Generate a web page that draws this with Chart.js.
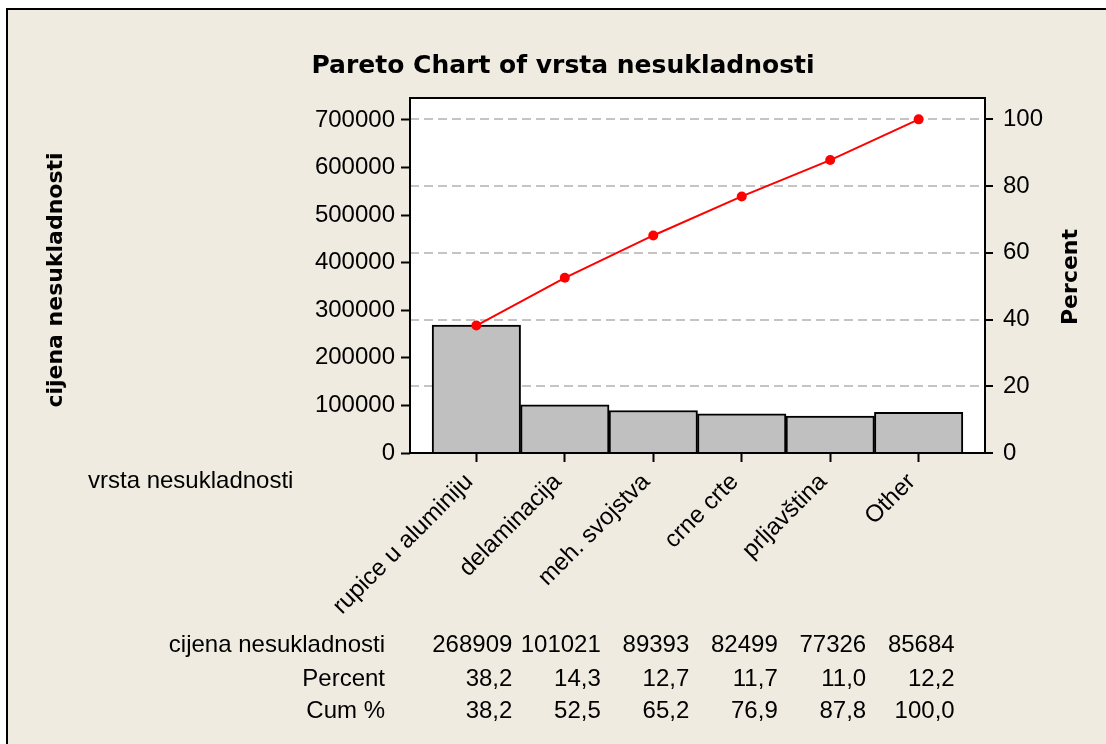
<!DOCTYPE html>
<html>
<head>
<meta charset="utf-8">
<script src="https://cdn.jsdelivr.net/npm/chart.js@4.4.1/dist/chart.umd.min.js"></script>
<style>
  html, body { margin: 0; padding: 0; background: #fff; }
</style>
</head>
<body>
<canvas id="myChart" width="1106" height="744"></canvas>
<script>
// pareto data
var categories = ['rupice u aluminiju', 'delaminacija', 'meh. svojstva', 'crne crte', 'prljavština', 'Other'];
var costValues = [268909, 101021, 89393, 82499, 77326, 85684];
var percentValues = [38.2, 14.3, 12.7, 11.7, 11.0, 12.2];
var cumPercent = [38.2, 52.5, 65.2, 76.9, 87.8, 100.0];
var leftTicks = [0, 100000, 200000, 300000, 400000, 500000, 600000, 700000];
var rightTicks = [0, 20, 40, 60, 80, 100];

Chart.defaults.font.family = '"Liberation Sans", Arial, sans-serif';
Chart.defaults.color = '#000';

function fmt(v) {
  return v.toFixed(1).replace('.', ',');
}

var decor = {
  id: 'decor',
  beforeDraw: function(chart) {
    var ctx = chart.ctx, a = chart.chartArea;
    ctx.save();
    ctx.fillStyle = '#fff';
    ctx.fillRect(0, 0, chart.width, chart.height);
    ctx.fillStyle = '#efebe1';
    ctx.fillRect(7, 9, chart.width - 7, chart.height - 9);
    ctx.fillStyle = '#000';
    ctx.fillRect(6, 8, chart.width - 6, 2);
    ctx.fillRect(6, 8, 2, chart.height - 8);
    ctx.fillStyle = '#fff';
    ctx.fillRect(a.left, a.top, a.right - a.left, a.bottom - a.top);
    ctx.restore();
  },
  afterDraw: function(chart) {
    var ctx = chart.ctx, a = chart.chartArea;
    var xs = chart.scales.x;
    ctx.save();
    ctx.strokeStyle = '#000';
    ctx.lineWidth = 2;
    ctx.strokeRect(a.left, a.top, a.right - a.left, a.bottom - a.top);

    ctx.fillStyle = '#000';
    ctx.textBaseline = 'alphabetic';

    // title
    ctx.font = 'bold 25px "DejaVu Sans"';
    ctx.textAlign = 'center';
    ctx.fillText('Pareto Chart of vrsta nesukladnosti', 563, 73);

    // axis titles
    ctx.font = 'bold 22px "DejaVu Sans"';
    ctx.save();
    ctx.translate(62, 280);
    ctx.rotate(-Math.PI / 2);
    ctx.fillText('cijena nesukladnosti', 0, 0);
    ctx.restore();
    ctx.save();
    ctx.translate(1077, 277);
    ctx.rotate(-Math.PI / 2);
    ctx.fillText('Percent', 0, 0);
    ctx.restore();

    ctx.font = '24px "Liberation Sans"';
    ctx.textAlign = 'left';
    ctx.fillText('vrsta nesukladnosti', 88, 488);

    // table under the chart
    var rows = [
      ['cijena nesukladnosti', costValues.map(String), 652],
      ['Percent', percentValues.map(fmt), 686],
      ['Cum %', cumPercent.map(fmt), 718]
    ];
    ctx.textAlign = 'right';
    rows.forEach(function(r) {
      ctx.fillText(r[0], 385, r[2]);
      r[1].forEach(function(t, i) {
        ctx.fillText(t, xs.getPixelForValue(i) + 36, r[2]);
      });
    });
    ctx.restore();
  }
};

var ctx = document.getElementById('myChart').getContext('2d');
var myChart = new Chart(ctx, {
  data: {
    datasets: [{
      type: 'line',
      order: 0,
      data: cumPercent.map(function(v, i) { return { x: i, y: v }; }),
      yAxisID: 'y2',
      borderColor: '#ff0000',
      borderWidth: 2,
      pointRadius: 5,
      pointBackgroundColor: '#ff0000',
      pointBorderWidth: 0
    }, {
      type: 'bar',
      order: 1,
      data: costValues.map(function(v, i) { return { x: i, y: v }; }),
      yAxisID: 'y',
      backgroundColor: '#c0c0c0',
      borderColor: '#000',
      borderWidth: 2,
      barPercentage: 1,
      categoryPercentage: 1
    }]
  },
  options: {
    responsive: false,
    animation: false,
    devicePixelRatio: 1,
    layout: { padding: { top: 98, left: 0, right: 0, bottom: 0 } },
    plugins: { legend: { display: false }, tooltip: { enabled: false } },
    scales: {
      x: {
        type: 'linear',
        position: 'bottom',
        offset: false,
        min: -0.75,
        max: 5.75,
        afterBuildTicks: function(s) {
          s.ticks = categories.map(function(c, i) { return { value: i }; });
        },
        afterFit: function(s) { s.height = 291; },
        ticks: {
          autoSkip: false,
          minRotation: 45,
          maxRotation: 45,
          padding: 6,
          labelOffset: -7,
          font: { size: 24 },
          callback: function(v) { return categories[v]; }
        },
        grid: { offset: false, drawOnChartArea: false, tickLength: 9, tickColor: '#000', tickWidth: 2 },
        border: { display: false }
      },
      y: {
        position: 'left',
        min: 0,
        max: 746000,
        afterBuildTicks: function(s) {
          s.ticks = leftTicks.map(function(v) { return { value: v }; });
        },
        afterFit: function(s) { s.width = 410; },
        ticks: {
          padding: 6,
          font: { size: 24 },
          callback: function(v) { return String(v); }
        },
        grid: { drawOnChartArea: false, tickLength: 9, tickColor: '#000', tickWidth: 2 },
        border: { display: false }
      },
      y2: {
        position: 'right',
        min: 0,
        max: 106.4,
        afterBuildTicks: function(s) {
          s.ticks = rightTicks.map(function(v) { return { value: v }; });
        },
        afterFit: function(s) { s.width = 121; },
        ticks: {
          padding: 10,
          font: { size: 24 },
          callback: function(v) { return String(v); }
        },
        grid: {
          drawOnChartArea: true,
          color: '#c4c4c4',
          lineWidth: 2,
          tickLength: 8,
          tickColor: '#000',
          tickWidth: 2,
          tickBorderDash: []
        },
        border: { display: false, dash: [9, 5] }
      }
    }
  },
  plugins: [decor]
});
</script>
</body>
</html>
